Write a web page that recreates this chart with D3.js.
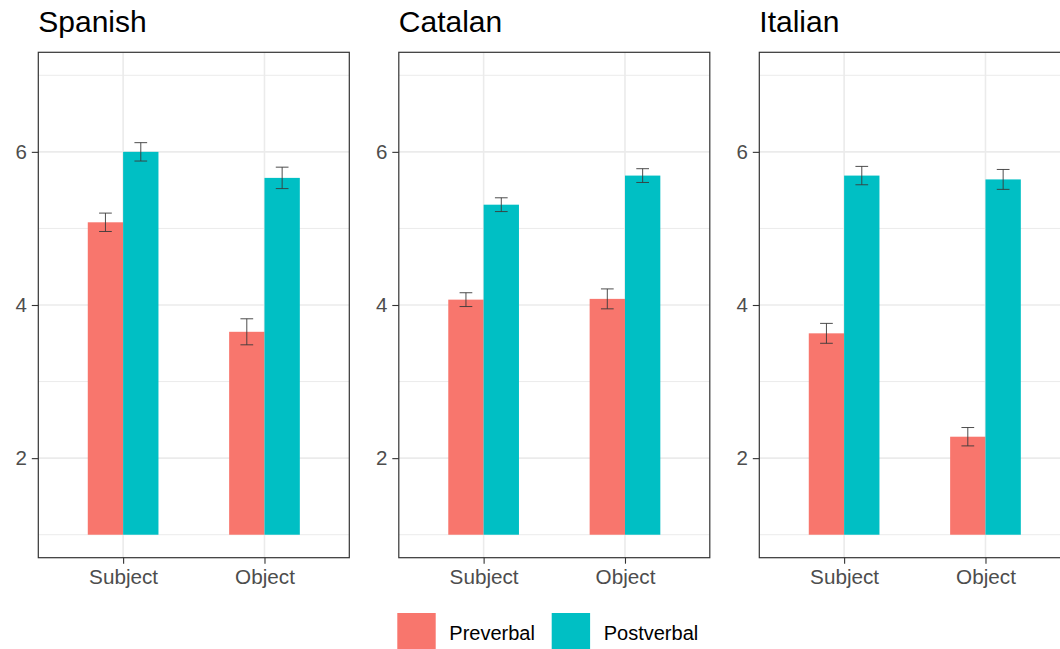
<!DOCTYPE html>
<html>
<head>
<meta charset="utf-8">
<script src="https://cdn.jsdelivr.net/npm/d3@7"></script>
<style>
  html, body { margin: 0; padding: 0; background: #fff; overflow: hidden; }
  svg { display: block; font-family: "Liberation Sans", Arial, sans-serif; }
</style>
</head>
<body>
<svg id="chart" width="1060" height="649"></svg>
<script>
// ---- data ----
const languages = ["Spanish", "Catalan", "Italian"];
const positions = ["Subject", "Object"];
const groups = ["Preverbal", "Postverbal"];
// means per language, ordered as positions (Subject, Object)
const preverbalMean  = [[5.08, 3.65], [4.07, 4.08], [3.63, 2.28]];
const preverbalSE    = [[0.12, 0.17], [0.09, 0.13], [0.13, 0.12]];
const postverbalMean = [[6.00, 5.66], [5.31, 5.69], [5.69, 5.64]];
const postverbalSE   = [[0.12, 0.14], [0.09, 0.09], [0.12, 0.13]];
const yTicks = [2, 4, 6];
const yMinor = [1, 3, 5, 7];
const colors = ["#F8766D", "#00BFC4"];

// ---- layout ----
const svg = d3.select("#chart");
const plotTop = 52.3, plotBottom = 557.7;
const panelW = 311;

const facet = d3.scaleBand().domain(languages)
  .range([38.3, 38.3 + 360.5 * (3 - 0.1373)])
  .paddingInner(0.1373).paddingOuter(0);

const y = d3.scaleLinear().domain([0.7, 7.3]).range([plotBottom, plotTop]);
const x = d3.scalePoint().domain(positions).range([0, panelW]).padding(0.6);
const step = x.step();
const sub = d3.scaleBand().domain(groups).range([-0.25 * step, 0.25 * step]).padding(0);

const color = d3.scaleOrdinal().domain(groups).range(colors);

languages.forEach((lang, li) => {
  const g = svg.append("g").attr("transform", `translate(${facet(lang)},0)`);

  // grid
  g.selectAll(".minor").data(yMinor).join("line")
    .attr("x1", 0).attr("x2", panelW)
    .attr("y1", d => y(d)).attr("y2", d => y(d))
    .attr("stroke", "#EBEBEB").attr("stroke-width", 1);
  g.selectAll(".major").data(yTicks).join("line")
    .attr("x1", 0).attr("x2", panelW)
    .attr("y1", d => y(d)).attr("y2", d => y(d))
    .attr("stroke", "#EBEBEB").attr("stroke-width", 1.6);
  g.selectAll(".vmajor").data(positions).join("line")
    .attr("x1", d => x(d)).attr("x2", d => x(d))
    .attr("y1", plotTop).attr("y2", plotBottom)
    .attr("stroke", "#EBEBEB").attr("stroke-width", 1.6);

  // bars
  const rows = [];
  positions.forEach((p, pi) => {
    rows.push({pos: p, grp: "Preverbal", mean: preverbalMean[li][pi], se: preverbalSE[li][pi]});
    rows.push({pos: p, grp: "Postverbal", mean: postverbalMean[li][pi], se: postverbalSE[li][pi]});
  });

  g.selectAll(".bar").data(rows).join("rect")
    .attr("x", d => x(d.pos) + sub(d.grp))
    .attr("width", sub.bandwidth())
    .attr("y", d => y(d.mean))
    .attr("height", d => y(1) - y(d.mean))
    .attr("fill", d => color(d.grp));

  // error bars
  const ew = sub.bandwidth() * 0.36;
  const eb = g.selectAll(".eb").data(rows).join("g")
    .attr("transform", d => `translate(${x(d.pos) + sub(d.grp) + sub.bandwidth() / 2},0)`);
  eb.append("line").attr("x1", 0).attr("x2", 0)
    .attr("y1", d => y(d.mean + d.se)).attr("y2", d => y(d.mean - d.se));
  eb.append("line").attr("x1", -ew / 2).attr("x2", ew / 2)
    .attr("y1", d => y(d.mean + d.se)).attr("y2", d => y(d.mean + d.se));
  eb.append("line").attr("x1", -ew / 2).attr("x2", ew / 2)
    .attr("y1", d => y(d.mean - d.se)).attr("y2", d => y(d.mean - d.se));
  eb.selectAll("line").attr("stroke", "#3a3a3a").attr("stroke-width", 0.9);

  // border
  g.append("rect").attr("x", 0).attr("y", plotTop)
    .attr("width", panelW).attr("height", plotBottom - plotTop)
    .attr("fill", "none").attr("stroke", "#333333").attr("stroke-width", 1.2);

  // y axis
  const ya = g.append("g").call(d3.axisLeft(y).tickValues(yTicks).tickSize(6.5).tickPadding(5).tickFormat(d3.format("d")));
  ya.select(".domain").remove();
  ya.selectAll(".tick line").attr("stroke", "#333333").attr("stroke-width", 1.1);
  ya.selectAll(".tick text").attr("fill", "#4D4D4D").style("font-size", "20.5px")
    .style("font-family", "Liberation Sans, Arial, sans-serif");

  // x axis
  const xa = g.append("g").attr("transform", `translate(0,${plotBottom})`)
    .call(d3.axisBottom(x).tickSize(6).tickPadding(6));
  xa.select(".domain").remove();
  xa.selectAll(".tick line").attr("stroke", "#333333").attr("stroke-width", 1.1);
  xa.selectAll(".tick text").attr("fill", "#4D4D4D").style("font-size", "20.7px")
    .style("font-family", "Liberation Sans, Arial, sans-serif");

  // title
  g.append("text").attr("x", 0).attr("y", 32)
    .attr("fill", "#000").style("font-size", "30px").text(lang);
});

// legend
const legendX = d3.scaleOrdinal().domain(groups).range([397.3, 551.7]);
const lg = svg.selectAll(".leg").data(groups).join("g")
  .attr("transform", d => `translate(${legendX(d)},613)`);
lg.append("rect").attr("width", 38.4).attr("height", 38.4).attr("fill", d => color(d));
lg.append("text").attr("x", 52).attr("y", 27)
  .attr("fill", "#000").style("font-size", "20px").text(d => d);
</script>
</body>
</html>
